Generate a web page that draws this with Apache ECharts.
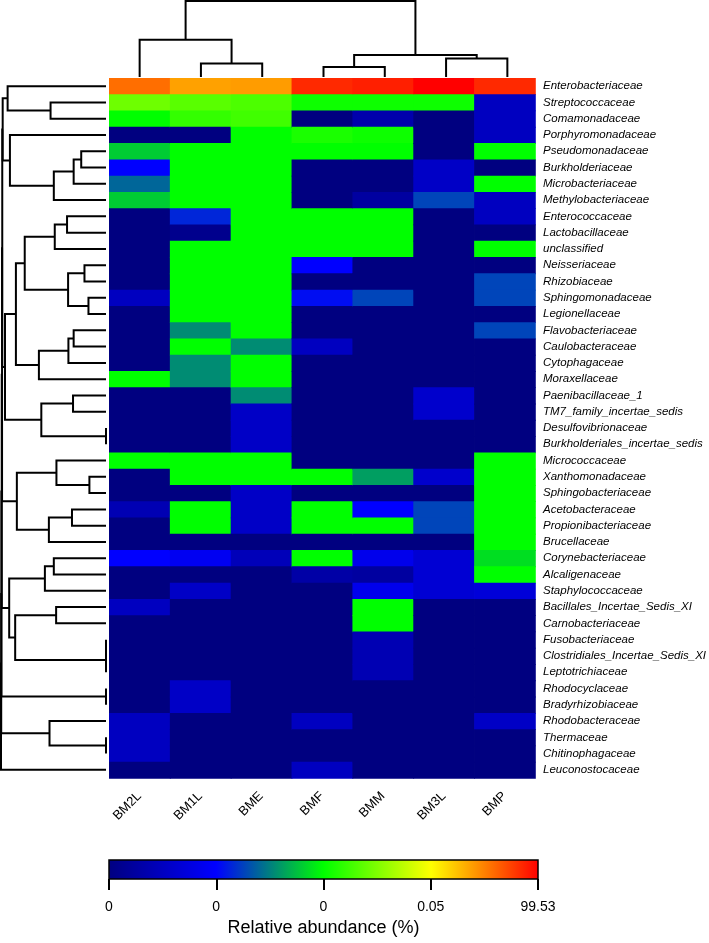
<!DOCTYPE html>
<html>
<head>
<meta charset="utf-8">
<script src="https://cdn.jsdelivr.net/npm/echarts@6/dist/echarts.min.js"></script>
<style>
html, body { margin: 0; padding: 0; background: #fff; }
#chart { width: 709px; height: 943px; }
</style>
</head>
<body>
<div id="chart"></div>
<script>
const samples = ['BM2L', 'BM1L', 'BME', 'BMF', 'BMM', 'BM3L', 'BMP']
const families = [
  'Enterobacteriaceae', 'Streptococcaceae', 'Comamonadaceae', 'Porphyromonadaceae', 'Pseudomonadaceae',
  'Burkholderiaceae', 'Microbacteriaceae', 'Methylobacteriaceae', 'Enterococcaceae', 'Lactobacillaceae',
  'unclassified', 'Neisseriaceae', 'Rhizobiaceae', 'Sphingomonadaceae', 'Legionellaceae',
  'Flavobacteriaceae', 'Caulobacteraceae', 'Cytophagaceae', 'Moraxellaceae', 'Paenibacillaceae_1',
  'TM7_family_incertae_sedis', 'Desulfovibrionaceae', 'Burkholderiales_incertae_sedis', 'Micrococcaceae',
  'Xanthomonadaceae', 'Sphingobacteriaceae', 'Acetobacteraceae', 'Propionibacteriaceae', 'Brucellaceae',
  'Corynebacteriaceae', 'Alcaligenaceae', 'Staphylococcaceae', 'Bacillales_Incertae_Sedis_XI',
  'Carnobacteriaceae', 'Fusobacteriaceae', 'Clostridiales_Incertae_Sedis_XI', 'Leptotrichiaceae',
  'Rhodocyclaceae', 'Bradyrhizobiaceae', 'Rhodobacteraceae', 'Thermaceae', 'Chitinophagaceae',
  'Leuconostocaceae'
]

// position of each cell on the colour key (0 .. 4, ticks 0 / 0 / 0 / 0.05 / 99.53 %), one array per sample
const BM2L = [3.57, 2.43, 2, 0, 1.8, 1, 1.4, 1.8, 0, 0, 0, 0, 0, 0.5, 0, 0, 0, 0, 2, 0, 0, 0, 0, 2, 0, 0, 0.4, 0, 0, 1, 0, 0, 0.5, 0, 0, 0, 0, 0, 0, 0.5, 0.5, 0.5, 0]
const BM1L = [3.37, 2.35, 2.2, 0, 2, 2, 2, 2, 1.15, 0.1, 2, 2, 2, 2, 2, 1.55, 2, 1.55, 1.55, 0, 0, 0, 0, 2, 2, 0, 2, 2, 0, 0.9, 0, 0.55, 0, 0, 0, 0, 0, 0.55, 0.55, 0, 0, 0, 0]
const BME = [3.39, 2.3, 2.25, 2, 2, 2, 2, 2, 2, 2, 2, 2, 2, 2, 2, 2, 1.55, 2, 2, 1.55, 0.55, 0.55, 0.55, 2, 2, 0.55, 0.55, 0.55, 0, 0.45, 0, 0, 0, 0, 0, 0, 0, 0, 0, 0, 0, 0, 0]
const BMF = [3.84, 2.05, 0, 2.1, 2, 0, 0, 0, 2, 2, 2, 1, 0, 1.05, 0, 0, 0.5, 0, 0, 0, 0, 0, 0, 0, 2, 0, 2, 2, 0, 2, 0.3, 0, 0, 0, 0, 0, 0, 0, 0, 0.5, 0, 0, 0.5]
const BMM = [3.88, 2.05, 0.35, 2.05, 2, 0, 0, 0.25, 2, 2, 2, 0, 0, 1.27, 0, 0, 0, 0, 0, 0, 0, 0, 0, 0, 1.62, 0, 1, 2, 0, 0.85, 0.25, 0.85, 2, 2, 0.4, 0.4, 0.4, 0, 0, 0, 0, 0, 0]
const BM3L = [4, 2.05, 0, 0, 0, 0.55, 0.55, 1.27, 0, 0, 0, 0, 0, 0, 0, 0, 0, 0, 0, 0.6, 0.6, 0, 0, 0, 0.6, 0, 1.27, 1.27, 0, 0.65, 0.65, 0.65, 0, 0, 0, 0, 0, 0, 0, 0, 0, 0, 0]
const BMP = [3.84, 0.5, 0.5, 0.5, 2, 0, 2, 0.5, 0.5, 0, 2, 0, 1.27, 1.27, 0, 1.27, 0, 0, 0, 0, 0, 0, 0, 2, 2, 2, 2, 2, 2, 1.87, 2, 0.7, 0, 0, 0, 0, 0, 0, 0, 0.55, 0, 0, 0]
const sampleValues = [BM2L, BM1L, BME, BMF, BMM, BM3L, BMP]

const colorbarTicks = [0, 1, 2, 3, 4]
const colorbarLabels = ['0', '0', '0', '0.05', '99.53']

// hclust style merges: negative = leaf (1-based), positive = earlier merge (1-based), then height
const columnMerges = [
  [-2, -3, 0.177], [-1, 1, 0.49], [-4, -5, 0.133], [-6, -7, 0.244], [3, 4, 0.289], [2, 5, 1]
]
const rowMerges = [
  [-2, -3, 0.528], [-1, 1, 0.937], [-5, -6, 0.236], [3, -7, 0.308], [4, -8, 0.497],
  [-4, 5, 0.915], [2, 6, 0.984], [-9, -10, 0.371], [8, -11, 0.488], [-12, -13, 0.205],
  [-14, -15, 0.167], [10, 11, 0.361], [9, 12, 0.774], [-16, -17, 0.308], [14, -18, 0.358],
  [15, -19, 0.639], [13, 16, 0.858], [-20, -21, 0.314], [-22, -23, 0], [18, 19, 0.616],
  [17, 20, 0.962], [7, 21, 0.988], [-25, -26, 0.158], [-24, 23, 0.472], [-27, -28, 0.324],
  [25, -29, 0.544], [24, 26, 0.849], [-30, -31, 0.497], [28, -32, 0.582], [-33, -34, 0.475],
  [-35, -36, 0], [31, -37, 0], [30, 32, 0.865], [29, 33, 0.922], [-38, -39, 0],
  [-41, -42, 0], [-40, 36, 0.538], [22, 27, 0.99], [38, 34, 0.993], [39, 35, 0.996],
  [40, 37, 0.998], [41, -43, 1]
]

const palette = ['#000080', '#0000ff', '#00ff00', '#ffff00', '#ff0000']
const font = '"Liberation Sans", Arial, Helvetica, sans-serif'

// segments of a dendrogram as [position, height] polylines
function dendrogram(merges) {
  const pos = []
  const hgt = []
  const place = (ref) => (ref < 0 ? [-ref - 0.5, 0] : [pos[ref - 1], hgt[ref - 1]])
  return merges.map(([a, b, h], k) => {
    const [pa, ha] = place(a)
    const [pb, hb] = place(b)
    pos[k] = (pa + pb) / 2
    hgt[k] = h
    return [[pa, ha], [pa, h], [pb, h], [pb, hb]]
  })
}

const cells = []
sampleValues.forEach((values, j) => values.forEach((v, i) => cells.push([j, i, v])))

const columnTree = dendrogram(columnMerges).map((path) => ({ coords: path }))
const rowTree = dendrogram(rowMerges).map((path) => ({ coords: path.map(([p, h]) => [h, p]) }))

const treeLine = { color: '#000', width: 2, opacity: 1 }
const hidden = { show: false }

const chart = echarts.init(document.getElementById('chart'))
chart.setOption({
  animation: false,
  textStyle: { fontFamily: font },
  grid: [
    { left: 109, top: 78, width: 429, height: 700 },
    { left: 109, top: 1, width: 429, height: 76 },
    { left: 1, top: 78, width: 105, height: 700 },
    { left: 109, top: 860, width: 429, height: 19 }
  ],
  xAxis: [
    {
      gridIndex: 0, type: 'category', data: samples,
      axisLine: hidden, axisTick: hidden, splitLine: hidden,
      axisLabel: { rotate: 45, margin: 16, fontSize: 13, color: '#000', fontFamily: font, interval: 0 }
    },
    { gridIndex: 1, type: 'value', min: 0, max: samples.length, show: false },
    { gridIndex: 2, type: 'value', min: 0, max: 1, inverse: true, show: false },
    {
      gridIndex: 3, type: 'value', min: 0, max: 4, interval: 1,
      axisLine: hidden, splitLine: hidden,
      axisTick: { show: true, length: 11, lineStyle: { color: '#000', width: 2 } },
      axisLabel: {
        margin: 21, fontSize: 14, color: '#000', fontFamily: font,
        formatter: (v) => colorbarLabels[colorbarTicks.indexOf(v)]
      },
      name: 'Relative abundance (%)', nameLocation: 'middle', nameGap: 40,
      nameTextStyle: { fontSize: 18, color: '#000', fontFamily: font }
    }
  ],
  yAxis: [
    {
      gridIndex: 0, type: 'category', data: families, inverse: true, position: 'right',
      axisLine: hidden, axisTick: hidden, splitLine: hidden,
      axisLabel: { margin: 8, fontSize: 11.5, fontStyle: 'italic', color: '#000', fontFamily: font, interval: 0 }
    },
    { gridIndex: 1, type: 'value', min: 0, max: 1, show: false },
    { gridIndex: 2, type: 'value', min: 0, max: families.length, inverse: true, show: false },
    { gridIndex: 3, type: 'value', min: 0, max: 1, show: false }
  ],
  visualMap: {
    type: 'continuous', show: false, seriesIndex: 0, dimension: 2,
    min: colorbarTicks[0], max: colorbarTicks[colorbarTicks.length - 1],
    inRange: { color: palette }
  },
  series: [
    {
      // heatmap cells, overlapped a little so no seams show between them
      type: 'custom', xAxisIndex: 0, yAxisIndex: 0, data: cells, silent: true,
      renderItem: (params, api) => {
        const c = api.coord([api.value(0), api.value(1)])
        const s = api.size([1, 1])
        return {
          type: 'rect',
          shape: { x: c[0] - s[0] / 2, y: c[1] - s[1] / 2, width: s[0] + 0.8, height: s[1] + 0.8 },
          style: { fill: api.visual('color') }
        }
      }
    },
    {
      type: 'lines', coordinateSystem: 'cartesian2d', xAxisIndex: 1, yAxisIndex: 1,
      polyline: true, silent: true, clip: false, lineStyle: treeLine, data: columnTree
    },
    {
      type: 'lines', coordinateSystem: 'cartesian2d', xAxisIndex: 2, yAxisIndex: 2,
      polyline: true, silent: true, clip: false, lineStyle: treeLine, data: rowTree
    },
    {
      type: 'custom', xAxisIndex: 3, yAxisIndex: 3, silent: true, clip: false,
      data: [[colorbarTicks[0], colorbarTicks[colorbarTicks.length - 1]]],
      renderItem: (params, api) => {
        const a = api.coord([api.value(0), 1])
        const b = api.coord([api.value(1), 0])
        return {
          type: 'rect',
          shape: { x: a[0], y: a[1], width: b[0] - a[0], height: b[1] - a[1] },
          style: {
            fill: new echarts.graphic.LinearGradient(0, 0, 1, 0,
              palette.map((c, i) => ({ offset: i / (palette.length - 1), color: c }))),
            stroke: '#000', lineWidth: 1.5
          }
        }
      }
    }
  ]
})
</script>
</body>
</html>
